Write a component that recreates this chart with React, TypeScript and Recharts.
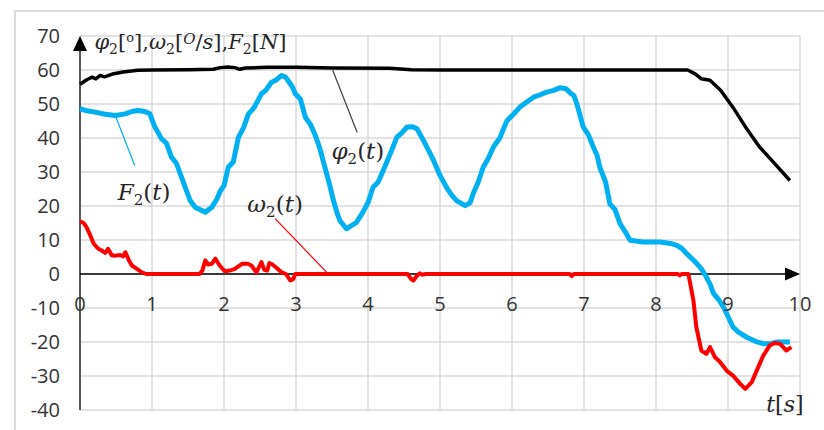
import { CartesianGrid, Line, LineChart, ReferenceDot, ReferenceLine, XAxis, YAxis } from "recharts";

// [t, value] pairs
const phi: [number, number][] = [
  [0, 55.8], [0.1, 57.2], [0.17, 57.9], [0.22, 57.4], [0.28, 58.4], [0.34, 58.0], [0.45, 58.8], [0.6, 59.4],
  [0.8, 59.9], [1.0, 60], [1.5, 60.1], [1.85, 60.2], [1.95, 60.7], [2.05, 60.9], [2.15, 60.7], [2.22, 60.2],
  [2.3, 60.6], [2.6, 60.8], [3.0, 60.8], [3.5, 60.6], [4.3, 60.5], [4.6, 60.1], [5, 60], [6, 60], [7, 60],
  [8, 60], [8.44, 60], [8.55, 58.8], [8.63, 57.4], [8.75, 57], [8.82, 55.6], [8.9, 54], [9.07, 49],
  [9.26, 42.7], [9.44, 37.3], [9.63, 32.9], [9.86, 27.5],
];

const force: [number, number][] = [
  [0, 48.6], [0.1, 48], [0.21, 47.6], [0.35, 47], [0.49, 46.6], [0.63, 47.1], [0.72, 47.8], [0.81, 48.1],
  [0.9, 47.8], [0.97, 47.1], [1.04, 43.2], [1.1, 41], [1.13, 39.8], [1.2, 38.5], [1.27, 34.4], [1.34, 32.5],
  [1.41, 28.5], [1.47, 25], [1.53, 21.6], [1.6, 19.6], [1.64, 19.2], [1.74, 18.2], [1.83, 19.6], [1.9, 22],
  [1.95, 24.5], [2.0, 26], [2.06, 31.4], [2.13, 33], [2.2, 40.2], [2.27, 43], [2.34, 47.1], [2.42, 49],
  [2.52, 53], [2.58, 54], [2.66, 56.4], [2.72, 57], [2.8, 58.4], [2.85, 58], [2.89, 56.9], [2.95, 55],
  [2.99, 53], [3.06, 51.5], [3.13, 46.1], [3.2, 44], [3.26, 41.2], [3.33, 37], [3.4, 31.5], [3.47, 26],
  [3.52, 21.6], [3.57, 18], [3.61, 15.7], [3.7, 13.3], [3.77, 14.2], [3.84, 15.2], [3.93, 18.2], [4.0, 21],
  [4.07, 25.5], [4.14, 27], [4.21, 30.4], [4.31, 35.4], [4.4, 40.2], [4.47, 41.5], [4.54, 43.2], [4.62, 43.3],
  [4.68, 42.7], [4.77, 39.3], [4.85, 36], [4.91, 33.4], [5.0, 29], [5.09, 25.5], [5.17, 23], [5.23, 21.6],
  [5.35, 20.1], [5.42, 21], [5.46, 23.6], [5.53, 27], [5.6, 31.4], [5.67, 34], [5.74, 37.3], [5.83, 40],
  [5.93, 45.1], [6.02, 47], [6.11, 49.1], [6.2, 50.5], [6.3, 52], [6.4, 52.8], [6.48, 53.5], [6.58, 54],
  [6.67, 54.8], [6.75, 54.5], [6.81, 53.2], [6.86, 52.5], [6.9, 50.1], [6.99, 43.2], [7.06, 41], [7.13, 37.3],
  [7.18, 35], [7.22, 31.4], [7.3, 27], [7.36, 20.6], [7.43, 19], [7.5, 14.8], [7.57, 12.5], [7.64, 9.9],
  [7.82, 9.4], [8.06, 9.4], [8.2, 9], [8.29, 8.4], [8.36, 7.5], [8.43, 5.9], [8.5, 4.5], [8.57, 3],
  [8.63, 1.5], [8.7, -0.9], [8.75, -3], [8.8, -5.8], [8.87, -7.5], [8.94, -9.8], [9.0, -12.5], [9.07, -15.6],
  [9.15, -17.2], [9.26, -18.6], [9.38, -19.8], [9.49, -20.5], [9.6, -20.5], [9.68, -20], [9.86, -20],
];

const omega: [number, number][] = [
  [0, 15.5], [0.05, 15], [0.09, 13.8], [0.14, 11.5], [0.19, 8.9], [0.25, 7.5], [0.3, 6.9], [0.35, 6.2],
  [0.39, 7.4], [0.44, 5.5], [0.49, 5.4], [0.56, 5.6], [0.6, 5.2], [0.63, 6.4], [0.68, 4], [0.72, 2.5],
  [0.79, 1.5], [0.86, 0.5], [0.92, 0], [1.66, 0], [1.7, 1], [1.74, 4], [1.78, 2.8], [1.83, 3], [1.88, 4.5],
  [1.94, 2.5], [2.01, 0.8], [2.08, 1], [2.15, 1.5], [2.25, 3], [2.33, 3], [2.38, 2.5], [2.45, 0.5],
  [2.52, 3.5], [2.56, 1.2], [2.6, 1], [2.63, 3.2], [2.66, 3], [2.72, 2], [2.8, 0.5], [2.86, 0], [2.92, -1.9],
  [2.96, -1.5], [2.99, 0], [4.55, 0], [4.6, -1.5], [4.63, -1.9], [4.68, -0.5], [4.72, 0.2], [4.75, -0.2],
  [4.8, 0], [6.8, 0], [6.83, -0.6], [6.86, 0], [8.3, 0], [8.33, -0.4], [8.36, 0], [8.45, 0], [8.52, -7.8],
  [8.56, -15.6], [8.63, -22.5], [8.7, -23.5], [8.75, -21.5], [8.82, -24.5], [8.89, -25.9], [8.98, -28.4],
  [9.07, -29.9], [9.17, -32.3], [9.24, -33.8], [9.33, -31.8], [9.42, -27.4], [9.49, -24], [9.58, -21],
  [9.65, -20.3], [9.72, -20.5], [9.81, -22.5], [9.88, -21.5],
];

const xTicks = [0, 1, 2, 3, 4, 5, 6, 7, 8, 9, 10];
const yTicks = [-40, -30, -20, -10, 0, 10, 20, 30, 40, 50, 60, 70];

const toRows = (pairs: [number, number][]) => pairs.map(([t, v]) => ({ t, v }));

const tickFont = "'Open Sans', sans-serif";
const mathFont = "'DejaVu Serif', serif";
const ink = "#262626";
const tickInk = "#333";

function FnLabel({ cx, cy, sym }: { cx?: number; cy?: number; sym: string }) {
  return (
    <text x={cx} y={(cy ?? 0) + 8} textAnchor="middle" fontFamily={mathFont} fontSize={23} fill={ink}>
      <tspan fontStyle="italic">{sym}</tspan>
      <tspan fontSize={15} dy={5}>2</tspan>
      <tspan dy={-5}>(</tspan>
      <tspan fontStyle="italic">t</tspan>
      <tspan>)</tspan>
    </text>
  );
}

function AxisTitle({ cx, cy }: { cx?: number; cy?: number }) {
  return (
    <text x={cx} y={(cy ?? 0) + 7} textAnchor="start" fontFamily={mathFont} fontSize={21} fill={ink}>
      <tspan fontStyle="italic">φ</tspan>
      <tspan fontSize={14} dy={5}>2</tspan>
      <tspan dy={-5}>[</tspan>
      <tspan fontSize={13} dy={-7}>o</tspan>
      <tspan dy={7}>],</tspan>
      <tspan fontStyle="italic">ω</tspan>
      <tspan fontSize={14} dy={5}>2</tspan>
      <tspan dy={-5}>[</tspan>
      <tspan fontSize={15} dy={-5} fontStyle="italic">O</tspan>
      <tspan dy={5}>/</tspan>
      <tspan fontStyle="italic">s</tspan>
      <tspan>],</tspan>
      <tspan fontStyle="italic">F</tspan>
      <tspan fontSize={14} dy={5}>2</tspan>
      <tspan dy={-5}>[</tspan>
      <tspan fontStyle="italic">N</tspan>
      <tspan>]</tspan>
    </text>
  );
}

function TimeLabel({ cx, cy }: { cx?: number; cy?: number }) {
  return (
    <text x={cx} y={(cy ?? 0) + 8} textAnchor="middle" fontFamily={mathFont} fontSize={22} fill={ink}>
      <tspan fontStyle="italic">t</tspan>
      <tspan>[</tspan>
      <tspan fontStyle="italic">s</tspan>
      <tspan>]</tspan>
    </text>
  );
}

function UpArrow({ cx = 0, cy = 0 }: { cx?: number; cy?: number }) {
  return <polygon points={`${cx},${cy} ${cx - 7},${cy + 15} ${cx + 7},${cy + 15}`} fill="#000" />;
}

function RightArrow({ cx = 0, cy = 0 }: { cx?: number; cy?: number }) {
  return <polygon points={`${cx},${cy} ${cx - 15},${cy - 6.5} ${cx - 15},${cy + 6.5}`} fill="#000" />;
}

export default function App() {
  return (
    <div style={{ position: "absolute", left: 0, top: 0, width: 824, height: 430, background: "#fff", overflow: "hidden" }}>
      <div
        style={{
          position: "absolute",
          left: 14,
          top: 10,
          width: 840,
          height: 440,
          borderTop: "2px solid #dcdcdc",
          borderLeft: "2px solid #dcdcdc",
        }}
      />
      <div style={{ position: "absolute", left: 0, top: 0 }}>
        <LineChart width={824} height={430} margin={{ top: 36, right: 24, bottom: 20, left: 0 }}>
          <CartesianGrid stroke="#d9d9d9" strokeWidth={1.5} />
          <XAxis type="number" dataKey="t" domain={[0, 10]} ticks={xTicks} hide />
          <YAxis
            type="number"
            domain={[-40, 70]}
            ticks={yTicks}
            width={80}
            axisLine={false}
            tickLine={false}
            tickSize={0}
            tickMargin={20}
            tick={{ fontSize: 20, fill: tickInk, fontFamily: tickFont }}
          />

          <ReferenceLine segment={[{ x: 0, y: -40 }, { x: 0, y: 67 }]} stroke="#595959" strokeWidth={2} />
          <ReferenceLine segment={[{ x: 0, y: 0 }, { x: 9.8, y: 0 }]} stroke="#000" strokeWidth={1.5} />
          <ReferenceDot x={0} y={70} r={1} shape={UpArrow} />
          <ReferenceDot x={10} y={0} r={1} shape={RightArrow} />

          {xTicks.map((t) => (
            <ReferenceDot
              key={t}
              x={t}
              y={0}
              r={1}
              fill="none"
              stroke="none"
              label={{ value: String(t), position: "bottom", offset: 22, fontSize: 20, fill: tickInk, fontFamily: tickFont }}
            />
          ))}

          <ReferenceLine segment={[{ x: 3.51, y: 59.9 }, { x: 3.85, y: 41.6 }]} stroke="#404040" strokeWidth={1.2} />
          <ReferenceLine segment={[{ x: 0.49, y: 46.6 }, { x: 0.76, y: 31.9 }]} stroke="#00b0f0" strokeWidth={1.2} />
          <ReferenceLine segment={[{ x: 2.71, y: 16.3 }, { x: 3.43, y: 0.4 }]} stroke="#ff0000" strokeWidth={1.2} />

          <Line data={toRows(phi)} dataKey="v" type="linear" stroke="#000" strokeWidth={3.5} dot={false} activeDot={false} isAnimationActive={false} strokeLinejoin="round" />
          <Line data={toRows(force)} dataKey="v" type="linear" stroke="#00b0f0" strokeWidth={5} dot={false} activeDot={false} isAnimationActive={false} strokeLinejoin="round" />
          <Line data={toRows(omega)} dataKey="v" type="linear" stroke="#ff0000" strokeWidth={4} dot={false} activeDot={false} isAnimationActive={false} strokeLinejoin="round" />

          <ReferenceDot x={0.2} y={68.1} r={1} shape={AxisTitle} />
          <ReferenceDot x={3.86} y={36.3} r={1} shape={(p: any) => <FnLabel {...p} sym="φ" />} />
          <ReferenceDot x={0.89} y={24} r={1} shape={(p: any) => <FnLabel {...p} sym="F" />} />
          <ReferenceDot x={2.71} y={20.7} r={1} shape={(p: any) => <FnLabel {...p} sym="ω" />} />
          <ReferenceDot x={9.79} y={-38.1} r={1} shape={TimeLabel} />
        </LineChart>
      </div>
    </div>
  );
}
